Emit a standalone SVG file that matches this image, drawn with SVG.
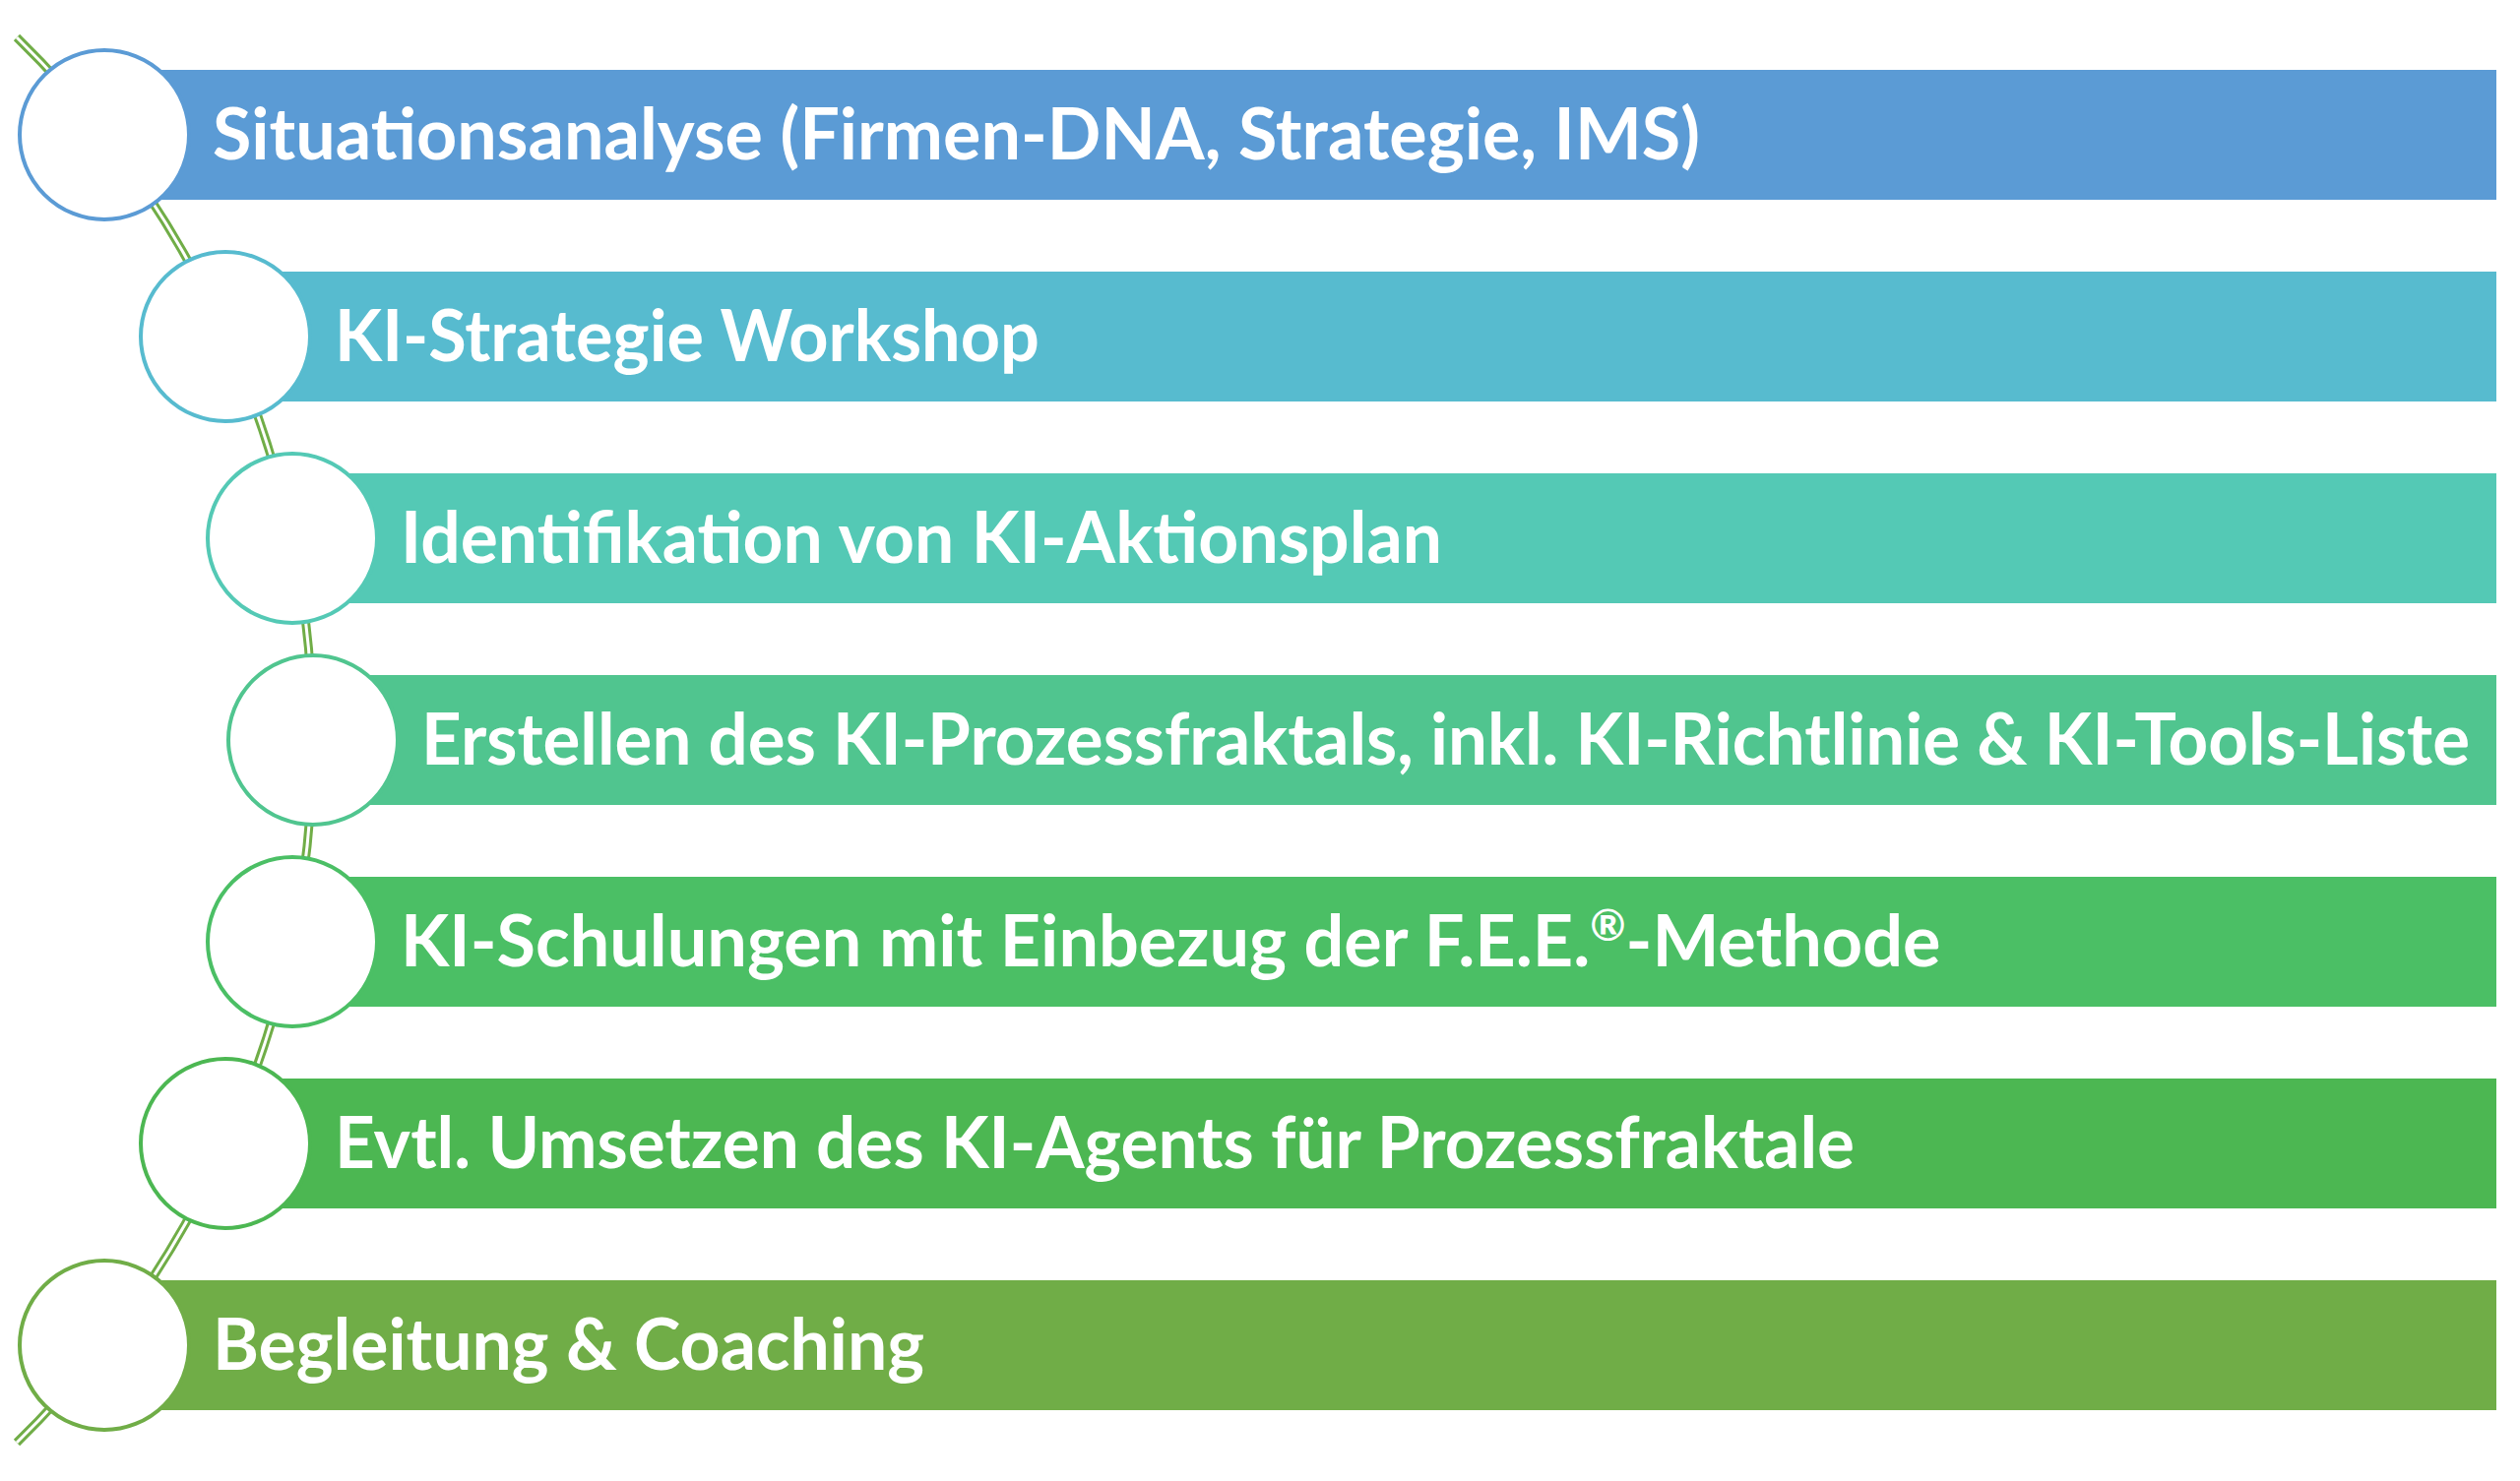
<svg xmlns="http://www.w3.org/2000/svg" width="2560" height="1505" viewBox="0 0 2560 1505">
<style>
  .lbl { font-family: Lato, "Open Sans", "Liberation Sans", sans-serif; font-weight: bold; font-size: 72px; fill: #FFFFFF; }
  .dot { fill: #FFFFFF; stroke-width: 4; }
</style>
<rect width="2560" height="1505" fill="#FFFFFF"/>
<g id="connectors">
  <path d="M 17 38 A 998 998 0 0 1 17 1466" fill="none" stroke="#70AD47" stroke-width="9"/>
  <path d="M 17 38 A 998 998 0 0 1 17 1466" fill="none" stroke="#FFFFFF" stroke-width="3"/>
</g>
<g id="node1">
  <rect x="106" y="71" width="2430" height="132" fill="#5B9BD5"/>
  <circle class="dot" cx="106" cy="137" r="86" stroke="#5B9BD5"/>
  <text class="lbl" x="216" y="162" textLength="1511" lengthAdjust="spacingAndGlyphs">Situationsanalyse (Firmen-DNA, Strategie, IMS)</text>
</g>
<g id="node2">
  <rect x="229" y="276" width="2307" height="132" fill="#57BBCF"/>
  <circle class="dot" cx="229" cy="342" r="86" stroke="#57BBCF"/>
  <text class="lbl" x="340" y="367" textLength="716" lengthAdjust="spacingAndGlyphs">KI-Strategie Workshop</text>
</g>
<g id="node3">
  <rect x="297" y="481" width="2239" height="132" fill="#54C9B5"/>
  <circle class="dot" cx="297" cy="547" r="86" stroke="#54C9B5"/>
  <text class="lbl" x="407" y="572" textLength="1058" lengthAdjust="spacingAndGlyphs">Identifikation von KI-Aktionsplan</text>
</g>
<g id="node4">
  <rect x="318" y="686" width="2218" height="132" fill="#50C58F"/>
  <circle class="dot" cx="318" cy="752" r="86" stroke="#50C58F"/>
  <text class="lbl" x="428" y="777" textLength="2081" lengthAdjust="spacingAndGlyphs">Erstellen des KI-Prozessfraktals, inkl. KI-Richtlinie &amp; KI-Tools-Liste</text>
</g>
<g id="node5">
  <rect x="297" y="891" width="2239" height="132" fill="#4BBF65"/>
  <circle class="dot" cx="297" cy="957" r="86" stroke="#4BBF65"/>
  <text class="lbl" x="407" y="982">KI-Schulungen mit Einbezug der F.E.E.<tspan font-size="44" dy="-26">®</tspan><tspan dy="26">-Methode</tspan></text>
</g>
<g id="node6">
  <rect x="229" y="1096" width="2307" height="132" fill="#4CB752"/>
  <circle class="dot" cx="229" cy="1162" r="86" stroke="#4CB752"/>
  <text class="lbl" x="340" y="1187" textLength="1544" lengthAdjust="spacingAndGlyphs">Evtl. Umsetzen des KI-Agents für Prozessfraktale</text>
</g>
<g id="node7">
  <rect x="106" y="1301" width="2430" height="132" fill="#70AD47"/>
  <circle class="dot" cx="106" cy="1367" r="86" stroke="#70AD47"/>
  <text class="lbl" x="216" y="1392" textLength="723" lengthAdjust="spacingAndGlyphs">Begleitung &amp; Coaching</text>
</g>
</svg>
